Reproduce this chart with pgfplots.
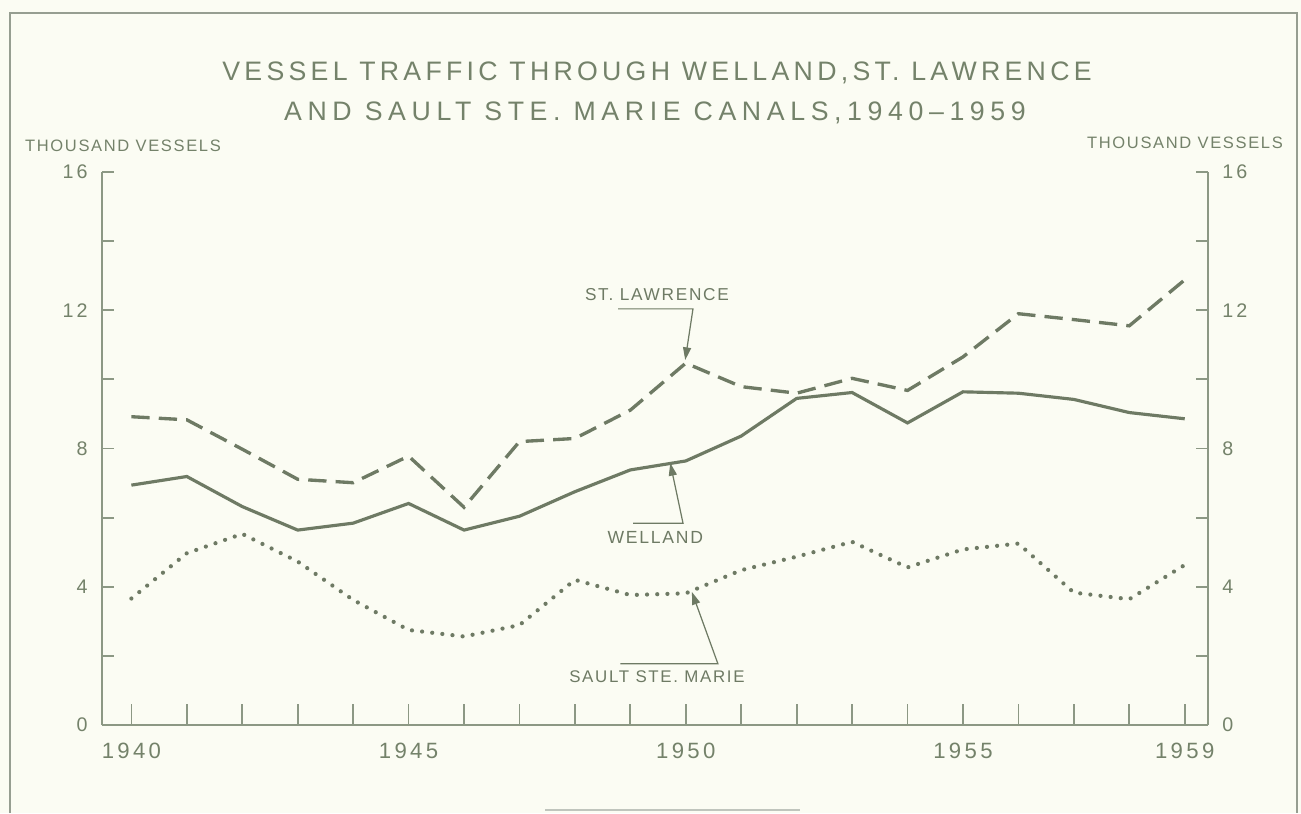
\documentclass[border=0pt]{standalone}
\usepackage{fontspec}
\setmainfont{Liberation Sans}
\newfontfamily\titlefont[LetterSpace=16]{Liberation Sans}
\newfontfamily\titlefontb[LetterSpace=21]{Liberation Sans}
\newfontfamily\smallfont[LetterSpace=10]{Liberation Sans}
\newfontfamily\tickfont[LetterSpace=15]{Liberation Sans}
\usepackage{pgfplots}
\pgfplotsset{compat=1.18}
\usetikzlibrary{arrows.meta}
\definecolor{bg}{RGB}{251,252,243}
\definecolor{ink}{RGB}{110,122,100}
\definecolor{axc}{RGB}{140,152,132}
\definecolor{titlec}{RGB}{116,130,106}
\definecolor{framec}{RGB}{150,158,145}
\begin{document}
\begin{tikzpicture}[x=1cm,y=1cm]
\path[use as bounding box, fill=bg] (0,0) rectangle (13.01,8.13);
\draw[framec, line width=0.6pt] (0.10,0) -- (0.10,8.00) -- (12.97,8.00) -- (12.97,0);
\draw[framec!60, line width=0.5pt] (5.45,0.03) -- (8.0,0.03);
\pgfplotsset{
  common/.style={
    width=11.06cm, height=5.53cm, scale only axis,
    xmin=1939.47, xmax=1959.42, ymin=0, ymax=16,
    at={(1.02cm,0.88cm)}, anchor=south west,
    axis line style={-, draw=axc, line width=0.5pt},
    tick style={draw=axc, line width=0.5pt},
    clip=false,
  }
}
% bottom x axis + data
\begin{axis}[common,
  axis x line*=bottom, axis y line=none,
  tick align=inside, major tick length=0.21cm,
  xtick={1940,1941,...,1959},
  xticklabels={1940,,,,,1945,,,,,1950,,,,,1955,,,,1959},
  xticklabel style={font=\tickfont\fontsize{6.3}{7}\selectfont, text=titlec, yshift=-0.06cm},
  ytick=\empty,
]
\addplot[ink, line width=0.95pt, dash pattern=on 5.2pt off 2.6pt] coordinates {
 (1940,8.92) (1941,8.83) (1942,7.98) (1943,7.11) (1944,7.01) (1945,7.78)
 (1946,6.30) (1947,8.20) (1948,8.29) (1949,9.11) (1950,10.47) (1951,9.79)
 (1952,9.60) (1953,10.03) (1954,9.68) (1955,10.65) (1956,11.90) (1957,11.73)
 (1958,11.55) (1959,12.88)};
\addplot[ink, line width=0.9pt] coordinates {
 (1940,6.94) (1941,7.19) (1942,6.32) (1943,5.64) (1944,5.84) (1945,6.41)
 (1946,5.64) (1947,6.04) (1948,6.75) (1949,7.38) (1950,7.64) (1951,8.36)
 (1952,9.45) (1953,9.62) (1954,8.74) (1955,9.64) (1956,9.60) (1957,9.42)
 (1958,9.04) (1959,8.86)};
\addplot[ink, line width=1.2pt, line cap=round, dash pattern=on 0pt off 2.9pt] coordinates {
 (1940,3.66) (1941,4.97) (1942,5.53) (1943,4.73) (1944,3.62) (1945,2.75)
 (1946,2.56) (1947,2.89) (1948,4.20) (1949,3.76) (1950,3.81) (1951,4.48)
 (1952,4.87) (1953,5.30) (1954,4.56) (1955,5.08) (1956,5.25) (1957,3.83)
 (1958,3.64) (1959,4.63)};
% annotations
\draw[ink, line width=0.35pt, -{Triangle[length=3.6pt,width=2.3pt]}]
  (axis cs:1948.78,12.04) -- (axis cs:1950.13,12.04) -- (axis cs:1949.99,10.56);
\draw[ink, line width=0.35pt, -{Triangle[length=3.6pt,width=2.3pt]}]
  (axis cs:1949.05,5.84) -- (axis cs:1949.95,5.84) -- (axis cs:1949.72,7.58);
\draw[ink, line width=0.35pt, -{Triangle[length=3.6pt,width=2.3pt]}]
  (axis cs:1948.82,1.77) -- (axis cs:1950.58,1.77) -- (axis cs:1950.11,3.85);
\node[font=\smallfont\fontsize{4.9}{6}\selectfont, text=ink] at (axis cs:1949.48,12.44) {ST. LAWRENCE};
\node[font=\smallfont\fontsize{5.0}{6}\selectfont, text=ink] at (axis cs:1949.45,5.44) {WELLAND};
\node[font=\smallfont\fontsize{4.8}{6}\selectfont, text=ink] at (axis cs:1949.48,1.39) {SAULT STE. MARIE};
\end{axis}
% left y axis
\begin{axis}[common,
  axis x line=none, axis y line*=left,
  tick align=inside, major tick length=0.12cm,
  xtick=\empty,
  ytick={0,2,...,16}, yticklabels={0,,4,,8,,12,,16},
  yticklabel style={font=\tickfont\fontsize{5.6}{7}\selectfont, text=titlec, xshift=-0.02cm},
]
\end{axis}
% right y axis
\begin{axis}[common,
  axis x line=none, axis y line*=right,
  tick align=inside, major tick length=0.12cm,
  xtick=\empty,
  ytick={0,2,...,16}, yticklabels={0,,4,,8,,12,,16},
  yticklabel style={font=\tickfont\fontsize{5.6}{7}\selectfont, text=titlec, xshift=0.02cm},
]
\end{axis}
\node[font=\titlefont\fontsize{7.6}{9}\selectfont, text=titlec] at (6.57,7.40) {VESSEL TRAFFIC THROUGH WELLAND,ST. LAWRENCE};
\node[font=\titlefontb\fontsize{7.6}{9}\selectfont, text=titlec] at (6.55,7.00) {AND SAULT STE. MARIE CANALS,1940–1959};
\node[font=\smallfont\fontsize{4.7}{6}\selectfont, text=titlec] at (1.23,6.67) {THOUSAND VESSELS};
\node[font=\smallfont\fontsize{4.7}{6}\selectfont, text=titlec] at (11.85,6.70) {THOUSAND VESSELS};
\end{tikzpicture}
\end{document}
